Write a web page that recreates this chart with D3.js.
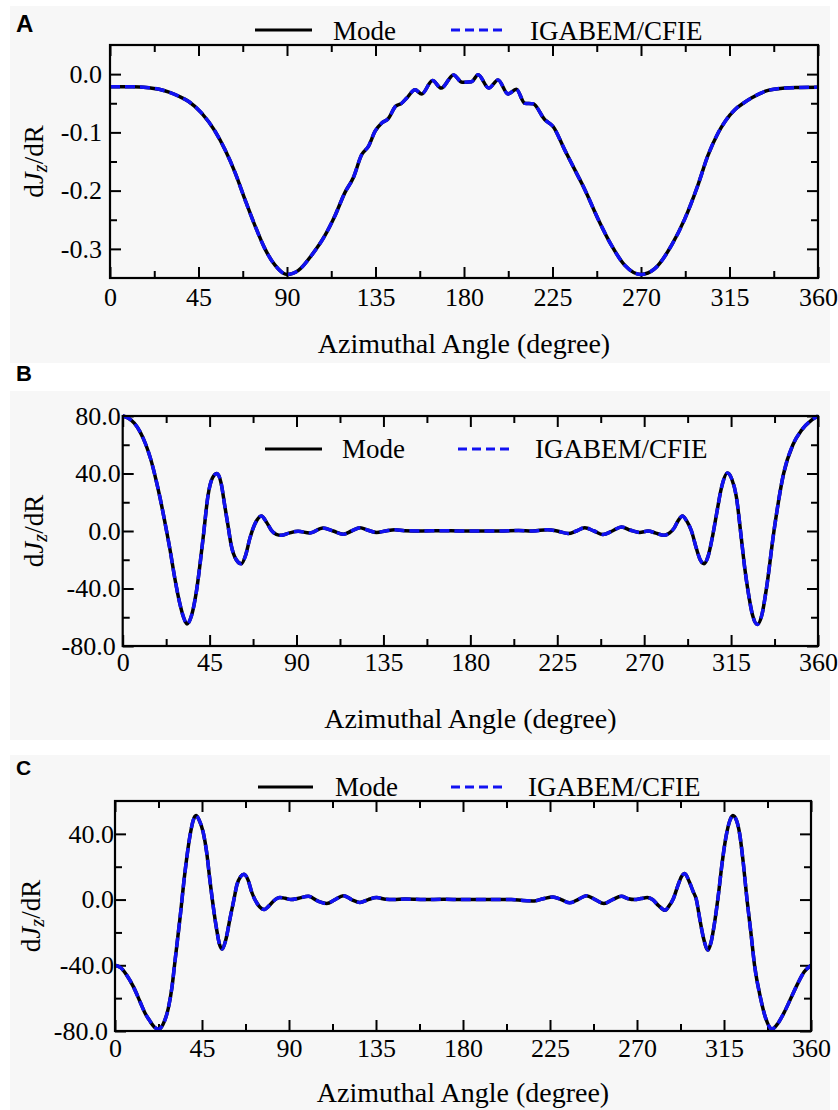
<!DOCTYPE html>
<html>
<head>
<meta charset="utf-8">
<script src="https://cdn.jsdelivr.net/npm/d3@7"></script>
<style>
  html, body { margin: 0; padding: 0; background: #ffffff; }
  svg { display: block; }
</style>
</head>
<body>
<svg id="chart" width="838" height="1110"></svg>
<script>
// ---------------- DATA ----------------
const seriesNames = ["Mode", "IGABEM/CFIE"];
const xTickValues = [0, 45, 90, 135, 180, 225, 270, 315, 360];
const xMinorTicks = [22.5, 67.5, 112.5, 157.5, 202.5, 247.5, 292.5, 337.5];

// Panel A
const angleA = [0,10,15,20,25,30,35,40,46.6,53.4,58.5,63.6,68.6,73.7,78.8,83.9,
  90,95.8,102.5,109.3,114.4,119.5,123.7,128,131.4,134.8,138.2,141.6,145,148.3,150.9,155.1,
  158.5,164,168.4,174.7,179,183.8,187.2,192.6,197.3,202.4,206.6,210.9,215.1,221,225.3,231.2,
  236.3,241.4,248.2,255,261.7,270,277,285.5,292.2,299,304,309.2,313,317.7,322,326.1,
  334.6,343.1,350,360];
const modeA = [-0.0216,-0.0218,-0.022,-0.0235,-0.026,-0.031,-0.038,-0.047,-0.067,-0.098,-0.130,-0.169,-0.215,-0.260,-0.300,-0.328,
  -0.344,-0.337,-0.311,-0.277,-0.243,-0.203,-0.178,-0.138,-0.124,-0.098,-0.084,-0.076,-0.056,-0.050,-0.041,-0.027,
  -0.034,-0.011,-0.024,-0.0015,-0.014,-0.013,-0.0012,-0.024,-0.010,-0.034,-0.026,-0.050,-0.051,-0.078,-0.090,-0.130,
  -0.164,-0.198,-0.249,-0.294,-0.328,-0.344,-0.334,-0.294,-0.249,-0.190,-0.140,-0.101,-0.080,-0.061,-0.050,-0.041,
  -0.028,-0.024,-0.023,-0.0225];
const igabemA = modeA.slice(); // the two curves coincide in the picture
const yTicksA = [0, -0.1, -0.2, -0.3];
const yMinorA = [-0.05, -0.15, -0.25];

// Panel B
const angleB = [0,3,6,9,12,14.5,17,19.5,22,24.5,
  27,29.5,31.5,33.3,35.6,38.1,41.6,44.2,46.5,48.8,
  51,52.8,54.5,56.2,58.8,61.4,63.6,65.8,68.5,71.8,
  74.5,77,79.5,82.1,86,90.8,96.8,103.7,109,114.2,
  118.5,122.9,127,131.5,136,141,146,155,165,175,
  185,195,205,212,220,225,230.6,235,239.2,244,
  248.7,253.5,258.2,263,267.7,272,276,280.3,283,285.5,
  287.5,289.8,292,294.5,297,299,301,303,305.5,307.5,
  310,313.1,315.4,317.7,320.3,322,323.8,326.2,328.6,331,
  333.3,337.2,342.2,347,351.4,356.5,360];
const modeB = [80,78.5,75,69,60,50,37,22,5,-13,
  -33,-50,-60,-64.7,-59,-42.6,-5.3,24.9,37,40,
  33,17.9,4,-10,-20,-22.8,-17,-5.3,5,10.5,
  6,0.5,-2.3,-3,-1.5,-0.2,-1.4,2.1,0,-2.3,
  0,2.3,0.5,-1,0,0.9,0.2,0,0.2,0,
  0,0,0.3,0,0.9,0,-1.8,0,2.3,0,
  -2.5,0,2.8,0.5,-1,0,-1.5,-3,-1.5,2,
  7,10.4,7,0,-12,-20,-22.7,-18,-3,12,
  30,40.3,36,24,-5,-25,-42,-59,-65,-58,
  -40,0,40,60,70,77,80];
const igabemB = modeB.slice();
const yTicksB = [80, 40, 0, -40, -80];
const yMinorB = [60, 20, -20, -60];

// Panel C
const angleC = [0,3,6,9.5,12.9,15.5,18.1,20.3,22.4,24.8,
  27.6,29.5,31,33.6,36.2,38.8,40.4,41.9,43.5,45.6,
  47.5,49,52.5,54,55.5,57.2,59.5,61.5,63,65,
  66.7,68.8,70.7,74.1,77.1,79.5,81.9,85.3,88,91,
  95,100,105.1,109.5,113.8,118.1,122.4,126.7,131,135.3,
  140,144,150,160,170,180,190,200,205,211,
  217,221.5,226.5,230.8,235.2,239.5,243.8,248.4,252.9,257.4,
  261.9,265.5,268.8,272,275.3,278,281,284.6,286.5,288.6,
  291,293,294.7,297,299,300.7,302.5,304.5,306.7,308.3,
  310,312,314,316,318,319.6,321.5,323.1,325,326.9,
  328.9,330.8,333.9,336.5,339.8,342.5,346,350,353.2,356.5,
  360];
const modeC = [-40,-41.5,-45.9,-53,-62,-69,-74,-77.5,-79,-76,
  -66,-53,-37.8,-11.5,16.8,39,48,51.1,48.5,41,
  28,12.7,-17.6,-27,-30.1,-25,-11.5,0,8.7,14,
  15.4,12,4.6,-3.4,-6.1,-4,-1,1.2,0.8,0,
  0.8,2,-1,-2.4,0,2.4,0,-1.8,0,1.2,
  0.2,0,0.3,0,0.2,0,0,0,0.1,-0.5,
  -0.8,0.5,1.6,0,-2,0,2.4,0,-2.4,0,
  2,0.5,0,0.6,1.2,0,-3.5,-6.5,-4,0,
  8,14,15.8,11,5,0,-12,-24,-30.7,-26,
  -15,2,22,38,48,51.1,48,40,22,0,
  -20,-40,-60,-72,-78.8,-76,-69,-59,-51,-44,
  -40];
const igabemC = modeC.slice();
const yTicksC = [40, 0, -40, -80];
const yMinorC = [20, -20, -60];

// ---------------- DRAWING ----------------
const svg = d3.select("#chart");
const SERIF = "'Liberation Serif', 'Times New Roman', Times, serif";
const SANS = "'Liberation Sans', Arial, Helvetica, sans-serif";
const BLUE = "#1212f2";

function drawPanel(cfg) {
  const g = svg.append("g");
  g.append("rect")
    .attr("x", cfg.bg[0]).attr("y", cfg.bg[1])
    .attr("width", cfg.bg[2]).attr("height", cfg.bg[3])
    .attr("fill", "#f7f7f7");

  g.append("text").text(cfg.letter)
    .attr("x", 16).attr("y", cfg.letterY)
    .style("font-family", SANS).style("font-weight", "bold")
    .style("font-size", cfg.letterSize + "px").attr("fill", "#000");

  const x = d3.scaleLinear().domain([0, 360]).range([cfg.left, cfg.right]);
  const y = d3.scaleLinear().domain(cfg.yDomain).range([cfg.bottom, cfg.top]);

  const styleAxis = sel => {
    sel.attr("font-family", null).attr("font-size", null);
    sel.select(".domain").remove();
    sel.selectAll(".tick line").attr("stroke", "#000").attr("stroke-width", 2);
    sel.selectAll(".tick text")
      .style("font-family", SERIF).style("font-size", cfg.tickFont + "px").attr("fill", "#000");
  };

  // bottom
  g.append("g").attr("transform", `translate(0,${cfg.bottom})`)
    .call(d3.axisBottom(x).tickValues(xTickValues).tickSize(-11).tickPadding(cfg.xPad).tickFormat(d3.format("d")))
    .call(styleAxis);
  g.append("g").attr("transform", `translate(0,${cfg.bottom})`)
    .call(d3.axisBottom(x).tickValues(xMinorTicks).tickSize(-7).tickFormat(""))
    .call(styleAxis);
  // top
  g.append("g").attr("transform", `translate(0,${cfg.top})`)
    .call(d3.axisTop(x).tickValues(xTickValues).tickSize(-11).tickFormat(""))
    .call(styleAxis);
  g.append("g").attr("transform", `translate(0,${cfg.top})`)
    .call(d3.axisTop(x).tickValues(xMinorTicks).tickSize(-7).tickFormat(""))
    .call(styleAxis);
  // left
  const leftAxis = g.append("g").attr("transform", `translate(${cfg.left},0)`)
    .call(d3.axisLeft(y).tickValues(cfg.yTicks).tickSize(-11).tickPadding(cfg.yPad).tickFormat(d => d.toFixed(1)))
    .call(styleAxis);
  if (cfg.bottomLabelShift) {
    leftAxis.selectAll(".tick").filter(d => d === cfg.yDomain[0]).select("text")
      .attr("x", -(cfg.yPad + cfg.bottomLabelShift));
  }
  g.append("g").attr("transform", `translate(${cfg.left},0)`)
    .call(d3.axisLeft(y).tickValues(cfg.yMinor).tickSize(-7).tickFormat(""))
    .call(styleAxis);
  // right
  g.append("g").attr("transform", `translate(${cfg.right},0)`)
    .call(d3.axisRight(y).tickValues(cfg.yTicks).tickSize(-11).tickFormat(""))
    .call(styleAxis);
  g.append("g").attr("transform", `translate(${cfg.right},0)`)
    .call(d3.axisRight(y).tickValues(cfg.yMinor).tickSize(-7).tickFormat(""))
    .call(styleAxis);

  // curves
  const line = d3.line().x(d => x(d[0])).y(d => y(d[1])).curve(d3.curveMonotoneX);
  g.append("path").datum(d3.zip(cfg.angles, cfg.mode))
    .attr("d", line).attr("fill", "none").attr("stroke", "#000")
    .attr("stroke-width", 3.5).attr("stroke-linejoin", "round");
  g.append("path").datum(d3.zip(cfg.angles, cfg.igabem))
    .attr("d", line).attr("fill", "none").attr("stroke", BLUE)
    .attr("stroke-width", 3.5).attr("stroke-dasharray", "10,5");

  // frame
  g.append("rect")
    .attr("x", cfg.left).attr("y", cfg.top)
    .attr("width", cfg.right - cfg.left).attr("height", cfg.bottom - cfg.top)
    .attr("fill", "none").attr("stroke", "#000").attr("stroke-width", 2.2);

  // legend
  const L = cfg.legend;
  g.append("line").attr("x1", L.l1[0]).attr("x2", L.l1[1]).attr("y1", L.y).attr("y2", L.y)
    .attr("stroke", "#000").attr("stroke-width", 3.2);
  g.append("text").text(seriesNames[0]).attr("x", L.t1).attr("y", L.base)
    .style("font-family", SERIF).style("font-size", "27px").attr("fill", "#000");
  g.append("line").attr("x1", L.l2[0]).attr("x2", L.l2[1]).attr("y1", L.y).attr("y2", L.y)
    .attr("stroke", BLUE).attr("stroke-width", 3.2).attr("stroke-dasharray", "9,5");
  g.append("text").text(seriesNames[1]).attr("x", L.t2).attr("y", L.base)
    .style("font-family", SERIF).style("font-size", "27px").attr("fill", "#000");

  // x title
  g.append("text").text("Azimuthal Angle (degree)")
    .attr("x", (cfg.left + cfg.right) / 2).attr("y", cfg.xTitleY)
    .attr("text-anchor", "middle")
    .style("font-family", SERIF).style("font-size", "28px").attr("fill", "#000");

  // y title: dJz/dR
  const yt = g.append("text")
    .attr("transform", `translate(${cfg.yTitleX},${(cfg.top + cfg.bottom) / 2}) rotate(-90)`)
    .attr("text-anchor", "middle")
    .style("font-family", SERIF).style("font-size", "27px").attr("fill", "#000");
  yt.append("tspan").text("d");
  yt.append("tspan").text("J").style("font-style", "italic");
  yt.append("tspan").text("z").style("font-style", "italic").style("font-size", "20px").attr("dy", 4);
  yt.append("tspan").text("/dR").attr("dy", -4);
}

drawPanel({
  letter: "A", letterY: 32, letterSize: 24,
  bg: [10, 6, 820, 357],
  left: 110, right: 818, top: 45, bottom: 278,
  yDomain: [-0.35, 0.05], yTicks: yTicksA, yMinor: yMinorA,
  xPad: 10, yPad: 8, tickFont: 26, bottomLabelShift: 0,
  angles: angleA, mode: modeA, igabem: igabemA,
  legend: { y: 30, base: 40, l1: [255, 312], t1: 333, l2: [451, 507], t2: 530 },
  xTitleY: 353, yTitleX: 43
});

drawPanel({
  letter: "B", letterY: 381, letterSize: 22,
  bg: [10, 391, 820, 349],
  left: 122.7, right: 818, top: 416, bottom: 646,
  yDomain: [-80, 80], yTicks: yTicksB, yMinor: yMinorB,
  xPad: 7, yPad: 2, tickFont: 26, bottomLabelShift: 5,
  angles: angleB, mode: modeB, igabem: igabemB,
  legend: { y: 449, base: 458, l1: [265, 322], t1: 342, l2: [458, 513], t2: 535 },
  xTitleY: 728, yTitleX: 43
});

drawPanel({
  letter: "C", letterY: 775, letterSize: 21,
  bg: [10, 755, 820, 355],
  left: 115, right: 811, top: 801, bottom: 1031,
  yDomain: [-80, 60], yTicks: yTicksC, yMinor: yMinorC,
  xPad: 8, yPad: 1, tickFont: 26, bottomLabelShift: 6,
  angles: angleC, mode: modeC, igabem: igabemC,
  legend: { y: 787, base: 796, l1: [258, 313], t1: 335, l2: [451, 505], t2: 528 },
  xTitleY: 1102, yTitleX: 40
});
</script>
</body>
</html>
